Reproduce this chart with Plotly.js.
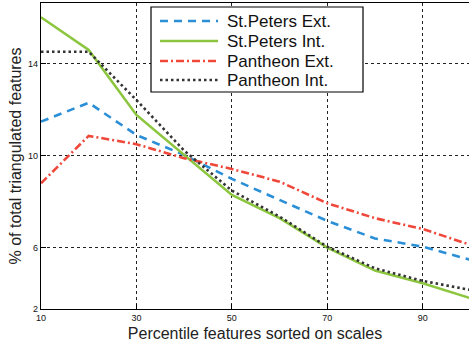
<!DOCTYPE html>
<html>
<head>
<meta charset="utf-8">
<script src="https://cdn.plot.ly/plotly-3.0.1.min.js"></script>
<style>html,body{margin:0;padding:0;background:#fff;}#chart{width:469px;height:347px;}</style>
</head>
<body>
<div id="chart"></div>
<script>
const percentiles = [10, 20, 30, 40, 50, 60, 70, 80, 90, 100];
const stPetersExt = [11.48, 12.30, 10.90, 10.03, 8.99, 8.07, 7.16, 6.40, 6.04, 5.47];
const stPetersInt = [16.02, 14.60, 11.77, 10.03, 8.29, 7.28, 6.00, 5.00, 4.45, 3.80];
const pantheonExt = [8.80, 10.86, 10.50, 9.89, 9.42, 8.87, 7.93, 7.28, 6.81, 6.12];
const pantheonInt = [14.52, 14.52, 12.42, 10.22, 8.48, 7.35, 6.04, 5.10, 4.55, 4.16];
const seriesNames = ['St.Peters Ext.', 'St.Peters Int.', 'Pantheon Ext.', 'Pantheon Int.'];
const xTickVals = [10, 30, 50, 70, 90];
const xTickText = ['10', '30', '50', '70', '90'];
const yTickVals = [3.33, 6, 10, 14];
const yTickText = ['2', '6', '10', '14'];

const colors = ['#2a8fd6', '#8cc63f', '#ef473a', '#333333'];
const dashes = ['8px,6px', 'solid', '8px,3px,2px,3px', '2.5px,3px'];
const widths = [2.6, 2.6, 2.6, 2.6];
const seriesData = [stPetersExt, stPetersInt, pantheonExt, pantheonInt];

const traces = seriesData.map((ys, i) => ({
  x: percentiles, y: ys, type: 'scatter', mode: 'lines', name: seriesNames[i],
  line: {color: colors[i], dash: dashes[i], width: widths[i]},
  showlegend: false
}));

// Custom legend (paper coords)
const L = 41, W = 428, T = 3, H = 306;
const xp = px => (px - L) / W;
const yp = py => (T + H - py) / H;
const shapes = [{
  type: 'rect', xref: 'paper', yref: 'paper', layer: 'above',
  x0: xp(151), x1: xp(363), y0: yp(92), y1: yp(7),
  line: {color: '#000', width: 1.2}, fillcolor: '#fff'
}];
const rows = [21, 41, 61, 80];
const annotations = [];
seriesNames.forEach((n, i) => {
  shapes.push({type: 'line', xref: 'paper', yref: 'paper', layer: 'above',
    x0: xp(160), x1: xp(218), y0: yp(rows[i]), y1: yp(rows[i]),
    line: {color: colors[i], dash: dashes[i], width: widths[i]}});
  annotations.push({xref: 'paper', yref: 'paper', x: xp(225), y: yp(rows[i] + 0.5),
    xanchor: 'left', yanchor: 'middle', showarrow: false, text: n,
    font: {family: 'Liberation Sans, Arial, sans-serif', size: 17, color: '#111'}});
});

const layout = {
  width: 469, height: 347,
  margin: {l: L, r: 0, t: T, b: 347 - T - H},
  paper_bgcolor: '#fff', plot_bgcolor: '#fff',
  font: {family: 'Liberation Sans, Arial, sans-serif', color: '#111'},
  xaxis: {
    range: [10, 99.7], tickvals: xTickVals, ticktext: xTickText,
    showgrid: true, gridcolor: '#222', griddash: '3px,3px', gridwidth: 1,
    zeroline: false, showline: true, linecolor: '#000', linewidth: 1.3, mirror: true,
    ticks: 'inside', ticklen: 5, tickcolor: '#000', tickfont: {size: 9},
    title: {text: 'Percentile features sorted on scales', font: {size: 16, color: '#222'}, standoff: 5}
  },
  yaxis: {
    range: [3.33, 16.64], tickvals: yTickVals, ticktext: yTickText,
    showgrid: true, gridcolor: '#222', griddash: '3px,3px', gridwidth: 1,
    zeroline: false, showline: true, linecolor: '#000', linewidth: 1.3,
    ticks: 'inside', ticklen: 5, tickcolor: '#000', tickfont: {size: 9},
    title: {text: '% of total triangulated features', font: {size: 16, color: '#222'}, standoff: 2}
  },
  shapes: shapes,
  annotations: annotations,
  showlegend: false
};

Plotly.newPlot('chart', traces, layout, {displayModeBar: false, staticPlot: true});
</script>
</body>
</html>
